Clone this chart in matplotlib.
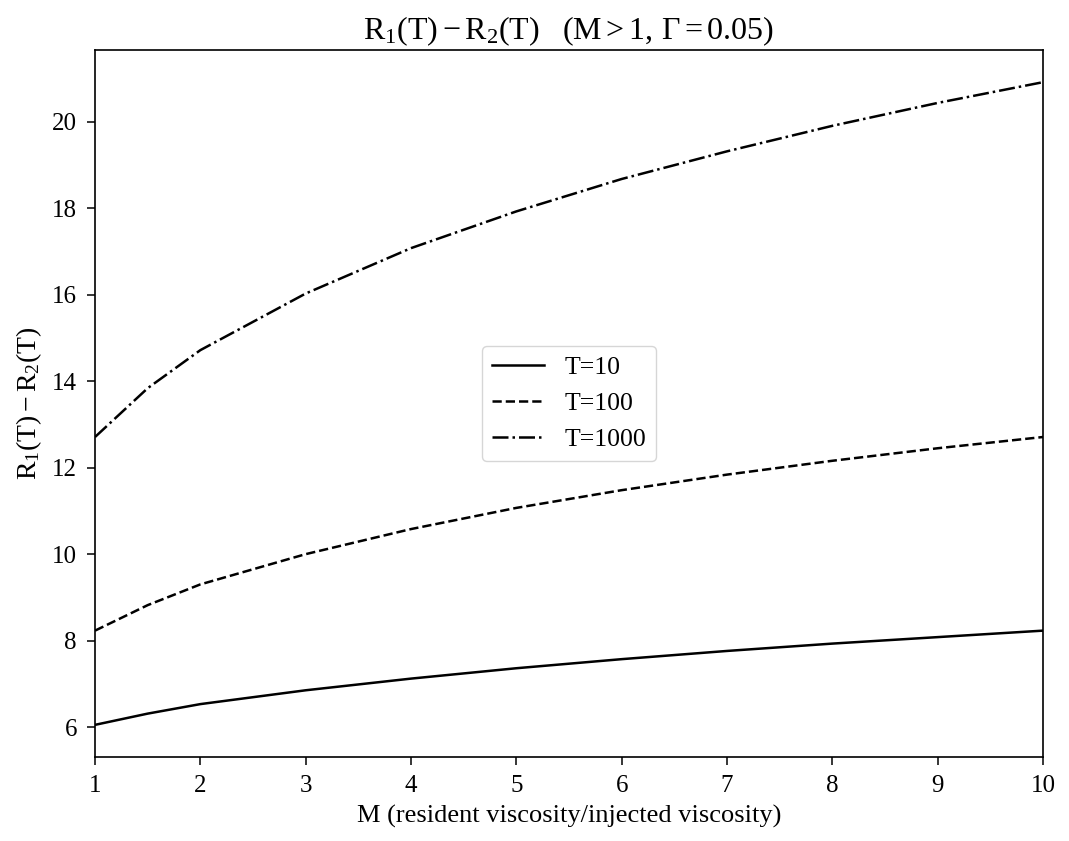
import matplotlib
matplotlib.use("Agg")
import matplotlib.pyplot as plt

# valores
M = [1, 1.5, 2, 3, 4, 5, 6, 7, 8, 9, 10]
r_t10 = [6.05, 6.31, 6.53, 6.85, 7.12, 7.36, 7.57, 7.76, 7.93, 8.08, 8.23]
r_t100 = [8.23, 8.82, 9.30, 10.00, 10.58, 11.07, 11.48, 11.84, 12.16, 12.45, 12.71]
r_t1000 = [12.71, 13.84, 14.72, 16.03, 17.08, 17.93, 18.68, 19.32, 19.91, 20.44, 20.92]

plt.rcParams['font.family'] = ['Liberation Serif', 'DejaVu Serif']
plt.rcParams['mathtext.fontset'] = 'stix'
plt.rcParams['mathtext.default'] = 'regular'
plt.rcParams['font.size'] = 18

fig = plt.figure(figsize=(10.69, 8.41), dpi=100)
ax = fig.add_axes([0.0889, 0.0999, 0.8868, 0.8406])

ax.plot(M, r_t10, color='black', linestyle='-', linewidth=1.8, label='T=10')
ax.plot(M, r_t100, color='black', linestyle='--', linewidth=1.8, label='T=100')
ax.plot(M, r_t1000, color='black', linestyle='-.', linewidth=1.8, label='T=1000')

ax.set_xlim(1, 10)
ax.set_xticks(range(1, 11))
ax.set_yticks([6, 8, 10, 12, 14, 16, 18, 20])
ax.tick_params(labelsize=18, length=6, width=1.1, pad=7)
for s in ax.spines.values():
    s.set_linewidth(1.2)
ax.set_title(r'$R_1(T)-R_2(T)\quad(M>1,\,\Gamma=0.05)$', fontsize=23, pad=8)
ax.set_xlabel('M (resident viscosity/injected viscosity)', fontsize=19, labelpad=6)
ax.set_ylabel(r'$R_1(T)-R_2(T)$', fontsize=20, labelpad=6)
ax.legend(loc='center', fontsize=18.5)

fig.savefig('out.png', dpi=100)
